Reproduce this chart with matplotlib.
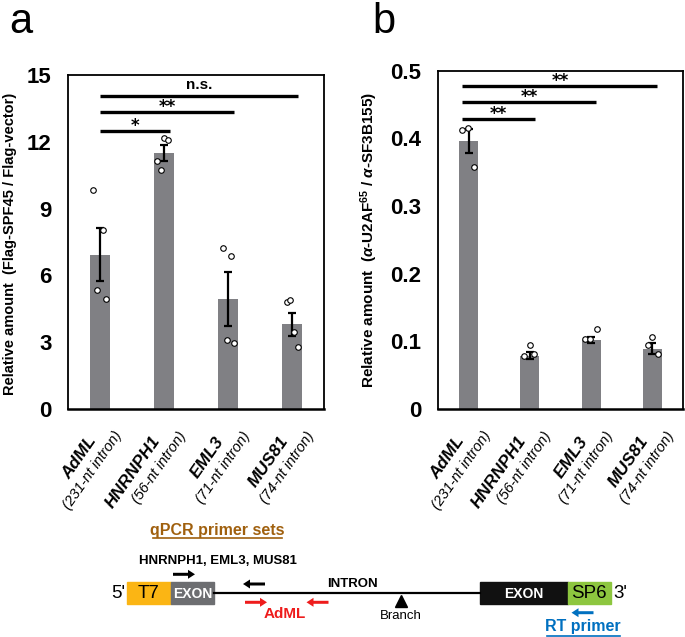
import matplotlib
matplotlib.use("Agg")
import matplotlib.pyplot as plt
from matplotlib.patches import Rectangle, FancyArrow
import matplotlib.transforms as mtransforms

plt.rcParams['font.family'] = ['Liberation Sans', 'DejaVu Sans']
plt.rcParams['mathtext.fontset'] = 'custom'
plt.rcParams['mathtext.rm'] = 'Liberation Sans'
plt.rcParams['mathtext.bf'] = 'Liberation Sans:bold'
plt.rcParams['mathtext.it'] = 'Liberation Sans:italic:bold'

# categories
genes = ["AdML", "HNRNPH1", "EML3", "MUS81"]
introns = ["(231-nt intron)", "(56-nt intron)", "(71-nt intron)", "(74-nt intron)"]

# panel a: Flag-SPF45 / Flag-vector
mean_a = [6.93, 11.5, 4.94, 3.80]
se_a = [1.2, 0.36, 1.2, 0.52]
pts_a = [[9.85, 8.02, 5.34, 4.92],
         [12.18, 12.06, 11.16, 10.73],
         [7.23, 6.87, 3.10, 2.95],
         [4.82, 4.88, 3.44, 2.77]]
sig_a = [(1, "*", 12.48), (2, "**", 13.32), (3, "n.s.", 14.05)]

# panel b: anti-U2AF65 / anti-SF3B155
mean_b = [0.396, 0.079, 0.102, 0.089]
se_b = [0.018, 0.005, 0.004, 0.008]
pts_b = [[0.412, 0.415, 0.357],
         [0.095, 0.078, 0.081],
         [0.118, 0.104, 0.104],
         [0.107, 0.094, 0.082]]
sig_b = [(1, "**", 0.429), (2, "**", 0.454), (3, "**", 0.478)]

# horizontal spread of the dots (so they don't overlap)
jit_a = [[-0.11, 0.04, -0.04, 0.10], [0.0, 0.07, -0.11, -0.05],
         [-0.08, 0.04, -0.02, 0.10], [-0.08, -0.03, 0.03, 0.10]]
jit_b = [[-0.11, -0.01, 0.08], [0.0, -0.09, 0.07],
         [0.09, -0.10, -0.02], [0.0, -0.075, 0.09]]

BAR = '#808084'

fig = plt.figure(figsize=(6.85, 6.37), dpi=100)
ax_a = fig.add_axes([0.0993, 0.3579, 0.3737, 0.5243])
ax_b = fig.add_axes([0.6394, 0.3579, 0.3577, 0.5311])


def draw_panel(ax, means, ses, pts, jit, sig, ylim, ticks, ticklabels, x0, x1):
    x = list(range(len(means)))
    ax.bar(x, means, width=0.31, color=BAR, zorder=1)
    ax.errorbar(x, means, yerr=ses, fmt='none', ecolor='black', elinewidth=1.6,
                capsize=3, capthick=1.6, zorder=2)
    for i, vals in enumerate(pts):
        xs = [i + d for d in jit[i]]
        ax.scatter(xs, vals, s=16, facecolors='white', edgecolors='black',
                   linewidths=0.8, zorder=3)
    for j, lab, y in sig:
        xe = j + x1
        ax.plot([x0, xe], [y, y], color='black', lw=2.4, solid_capstyle='butt', zorder=4)
        if lab.startswith('*'):
            ax.annotate(lab, xy=((x0 + xe) / 2, y), xytext=(0, 0), textcoords='offset pixels',
                        ha='center', va='baseline', fontsize=12, fontweight='bold',
                        family='DejaVu Sans')
        else:
            ax.annotate(lab, xy=((x0 + xe) / 2, y), xytext=(0, 7), textcoords='offset pixels',
                        ha='center', va='baseline', fontsize=11, fontweight='bold')
    ax.set_xlim(-0.5, len(means) - 0.5)
    ax.set_ylim(0, ylim)
    ax.set_yticks(ticks)
    ax.set_yticklabels(ticklabels, fontsize=16, fontweight='bold')
    ax.set_xticks([])
    ax.tick_params(axis='y', length=0, pad=12)
    for s in ax.spines.values():
        s.set_linewidth(1.3)
    ax.spines['bottom'].set_linewidth(1.8)
    tr = mtransforms.blended_transform_factory(ax.transData, ax.transAxes)
    for i in x:
        ax.annotate(genes[i], xy=(i, 0), xycoords=tr, xytext=(-7, -29),
                    textcoords='offset pixels', ha='right', va='center',
                    rotation=55, rotation_mode='anchor', fontsize=12.5,
                    fontweight='bold', fontstyle='italic', annotation_clip=False)
        ax.annotate(introns[i], xy=(i, 0), xycoords=tr, xytext=(19, -24),
                    textcoords='offset pixels', ha='right', va='center',
                    rotation=55, rotation_mode='anchor', fontsize=10.5,
                    fontstyle='italic', annotation_clip=False)


draw_panel(ax_a, mean_a, se_a, pts_a, jit_a, sig_a, 15, [0, 3, 6, 9, 12, 15],
           ["0", "3", "6", "9", "12", "15"], 0.0, 0.1)
draw_panel(ax_b, mean_b, se_b, pts_b, jit_b, sig_b, 0.5, [0, 0.1, 0.2, 0.3, 0.4, 0.5],
           ["0", "0.1", "0.2", "0.3", "0.4", "0.5"], -0.1, 0.08)

ax_a.set_ylabel("Relative amount  (Flag-SPF45 / Flag-vector)", fontsize=10.5, fontweight='bold')
ax_a.yaxis.set_label_coords(-0.2, 0.494)
ax_b.set_ylabel(r"Relative amount  ($\mathit{\alpha}$-U2AF$^{\mathbf{65}}$ / $\mathit{\alpha}$-SF3B155)",
                fontsize=11, fontweight='bold')
ax_b.yaxis.set_label_coords(-0.237, 0.5)

fig.text(21 / 685, 1 - 22 / 637, "a", fontsize=30, ha='center', va='center')
fig.text(384 / 685, 1 - 22 / 637, "b", fontsize=30, ha='center', va='center')

# schematic of the reporter pre-mRNA, drawn in pixel coordinates
d = fig.add_axes([0, 0, 1, 1], zorder=-1)
d.set_xlim(0, 685)
d.set_ylim(637, 0)
d.axis('off')

d.plot([214, 480], [592.5, 592.5], color='black', lw=1.6)
d.add_patch(Rectangle((127.3, 582.3), 43.4, 22, color='#FBB514'))
d.add_patch(Rectangle((170.7, 582.3), 43.3, 22, color='#6D6E71'))
d.add_patch(Rectangle((480, 582.3), 87.7, 22, color='#111111'))
d.add_patch(Rectangle((567.7, 582.3), 43.3, 22, color='#8DC63F'))

d.text(149, 594, "T7", fontsize=13.5, ha='center', va='center')
d.text(192.3, 594, "EXON", fontsize=10, fontweight='bold', color='white', ha='center', va='center')
d.text(524, 594, "EXON", fontsize=10, fontweight='bold', color='white', ha='center', va='center')
d.text(589.3, 594, "SP6", fontsize=13.5, ha='center', va='center')
d.text(118.5, 594, "5'", fontsize=13.5, ha='center', va='center')
d.text(620, 594, "3'", fontsize=13.5, ha='center', va='center')
d.text(352, 584, "INTRON", fontsize=9.5, fontweight='bold', ha='center', va='center')

d.plot([401], [601], marker='^', color='black', markersize=8)
d.text(401, 616, "Branch", fontsize=9.5, ha='center', va='center')

d.text(217.5, 530, "qPCR primer sets", fontsize=11.5, fontweight='bold', color='#A0600E',
       ha='center', va='center')
d.plot([153, 282], [538, 538], color='#A0600E', lw=1.2)
d.text(217.5, 561, "HNRNPH1, EML3, MUS81", fontsize=9.5, fontweight='bold',
       ha='center', va='center')
d.text(285, 614, "AdML", fontsize=11, fontweight='bold', color='#EE1C1C', ha='center', va='center')
d.text(583.3, 627, "RT primer", fontsize=11.5, fontweight='bold', color='#0070C0',
       ha='center', va='center')
d.plot([546.7, 620], [635.5, 635.5], color='#0070C0', lw=1.2)

arrow_kw = dict(width=3, head_width=9, head_length=7, length_includes_head=True, lw=0)
d.add_patch(FancyArrow(173, 574.3, 22, 0, color='black', **arrow_kw))
d.add_patch(FancyArrow(265, 584, -22, 0, color='black', **arrow_kw))
d.add_patch(FancyArrow(245, 602.3, 22, 0, color='#EE1C1C', **arrow_kw))
d.add_patch(FancyArrow(328.5, 602.3, -22, 0, color='#EE1C1C', **arrow_kw))
d.add_patch(FancyArrow(593.5, 612.7, -22, 0, color='#0070C0', **arrow_kw))

fig.savefig("out.png", dpi=100)
